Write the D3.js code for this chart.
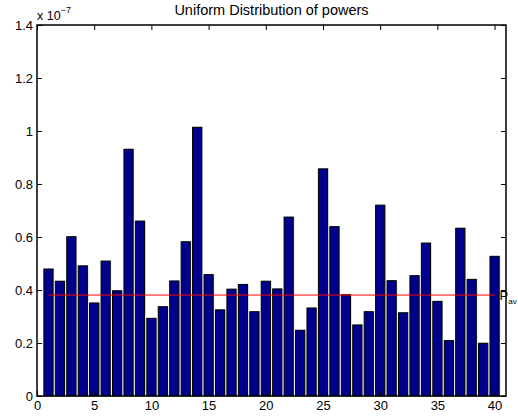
<!DOCTYPE html>
<html>
<head>
<meta charset="utf-8">
<script src="https://cdn.jsdelivr.net/npm/d3@7"></script>
<style>
  html, body { margin: 0; padding: 0; background: #fff; }
  svg { display: block; }
  text { font-family: "Liberation Sans", Arial, Helvetica, sans-serif; fill: #000; }
</style>
</head>
<body>
<svg id="chart" width="518" height="419"></svg>
<script>
// ---- data (values in units of 1e-7) ----
const categories = d3.range(1, 41);
const powers = [
  0.479, 0.433, 0.601, 0.491, 0.351, 0.509, 0.397, 0.931, 0.660, 0.293,
  0.337, 0.434, 0.582, 1.014, 0.458, 0.325, 0.403, 0.421, 0.318, 0.433,
  0.404, 0.675, 0.248, 0.332, 0.857, 0.639, 0.382, 0.268, 0.318, 0.720,
  0.435, 0.314, 0.454, 0.577, 0.357, 0.209, 0.633, 0.440, 0.199, 0.527
];
const averagePower = 0.381;
const xTicks = [0, 5, 10, 15, 20, 25, 30, 35, 40];
const yTicks = [0, 0.2, 0.4, 0.6, 0.8, 1, 1.2, 1.4];
const yTickLabels = ["0", "0.2", "0.4", "0.6", "0.8", "1", "1.2", "1.4"];
const title = "Uniform Distribution of powers";

// ---- layout ----
const W = 518, H = 419;
const m = { left: 37, right: 12, top: 25, bottom: 23 };
const iw = W - m.left - m.right, ih = H - m.top - m.bottom;

const svg = d3.select("#chart");
const g = svg.append("g").attr("transform", `translate(${m.left},${m.top})`);

const x = d3.scaleLinear().domain([0, 41]).range([0, iw]);
const y = d3.scaleLinear().domain([0, 1.4]).range([ih, 0]);
const barW = (x(1) - x(0)) * 0.8;

// bars: gray shadow then bar with black edge
const data = categories.map((c, i) => ({ c, v: powers[i] }));
g.selectAll("rect.shadow").data(data).enter().append("rect")
  .attr("class", "shadow")
  .attr("x", d => x(d.c) - barW / 2 + 1)
  .attr("y", d => y(d.v) - 0.5)
  .attr("width", barW)
  .attr("height", d => ih - y(d.v) + 0.5)
  .attr("fill", "#b4b4b4");
g.selectAll("rect.bar").data(data).enter().append("rect")
  .attr("class", "bar")
  .attr("x", d => x(d.c) - barW / 2)
  .attr("y", d => y(d.v))
  .attr("width", barW)
  .attr("height", d => ih - y(d.v))
  .attr("fill", "#00008f")
  .attr("stroke", "#000")
  .attr("stroke-width", 1);

// average line
g.append("line")
  .attr("x1", x(1)).attr("x2", x(40))
  .attr("y1", y(averagePower)).attr("y2", y(averagePower))
  .attr("stroke", "#ff0000").attr("stroke-width", 1);
const pav = g.append("text")
  .attr("x", x(40) + 5).attr("y", y(averagePower) + 5)
  .attr("font-size", 13);
pav.append("tspan").text("P");
pav.append("tspan").attr("font-size", 8).attr("dy", 4).text("av");

// axes with inward ticks
const tickLen = 5;
const axB = d3.axisBottom(x).tickValues(xTicks).tickSize(-tickLen).tickPadding(5).tickFormat(d3.format("d"));
const axT = d3.axisTop(x).tickValues(xTicks).tickSize(-tickLen).tickFormat("");
const axL = d3.axisLeft(y).tickValues(yTicks).tickSize(-tickLen).tickPadding(4)
  .tickFormat((d, i) => yTickLabels[i]);
const axR = d3.axisRight(y).tickValues(yTicks).tickSize(-tickLen).tickFormat("");

function style(sel) {
  sel.select(".domain").remove();
  sel.selectAll(".tick line").attr("stroke", "#000");
  sel.selectAll(".tick text").attr("font-size", 13).attr("font-family", "Liberation Sans, Arial, sans-serif").attr("fill", "#000");
}
g.append("g").attr("transform", `translate(0,${ih})`).call(axB).call(style);
g.append("g").call(axT).call(style);
g.append("g").call(axL).call(style);
g.append("g").attr("transform", `translate(${iw},0)`).call(axR).call(style);

// box
g.append("rect").attr("x", 0).attr("y", 0).attr("width", iw).attr("height", ih)
  .attr("fill", "none").attr("stroke", "#000").attr("stroke-width", 1.5);

// title
svg.append("text").attr("x", m.left + iw / 2).attr("y", 15)
  .attr("text-anchor", "middle").attr("font-size", 14.5).text(title);

// exponent label
const ex = svg.append("text").attr("x", 37).attr("y", 20).attr("font-size", 12.5);
ex.append("tspan").text("x 10");
ex.append("tspan").attr("font-size", 9).attr("dy", -7).text("−7");
</script>
</body>
</html>
